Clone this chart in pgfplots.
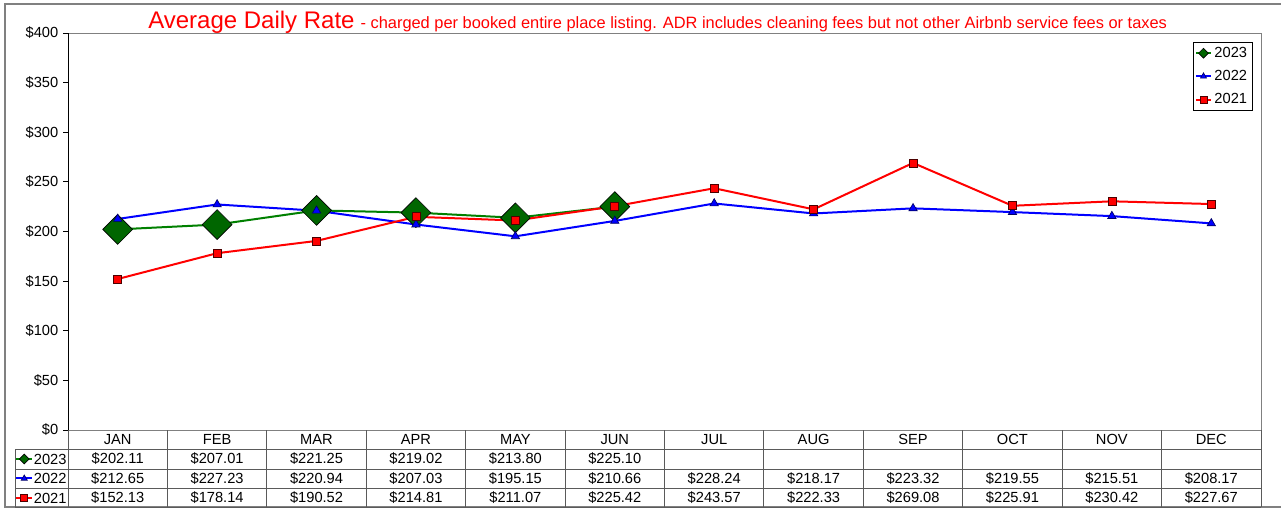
\documentclass[border=0pt]{standalone}
\usepackage{pgfplots}
\usepackage{pgfplotstable}
\pgfplotsset{compat=1.18}
\usepackage{fontspec}
\setmainfont{Liberation Sans}

\definecolor{line23}{RGB}{0,128,0}
\definecolor{fill23}{RGB}{0,102,0}
\definecolor{line22}{RGB}{0,0,255}
\definecolor{line21}{RGB}{255,0,0}
\definecolor{framegray}{RGB}{128,128,128}
\definecolor{gridgray}{RGB}{90,90,90}

% average daily rate by month
\pgfplotstableread{
x  m    y23     y22     y21
0  JAN  202.11  212.65  152.13
1  FEB  207.01  227.23  178.14
2  MAR  221.25  220.94  190.52
3  APR  219.02  207.03  214.81
4  MAY  213.80  195.15  211.07
5  JUN  225.10  210.66  225.42
6  JUL  nan     228.24  243.57
7  AUG  nan     218.17  222.33
8  SEP  nan     223.32  269.08
9  OCT  nan     219.55  225.91
10 NOV  nan     215.51  230.42
11 DEC  nan     208.17  227.67
}\adr

\newcommand\tabfont{\fontsize{11}{13}\selectfont}

\pgfplotsset{
  s23/.style={color=line23, line width=1.5pt, mark=square*, mark size=7.9pt,
    mark options={solid, rotate=45, fill=fill23, draw=black, line width=0.5pt}},
  s22/.style={color=line22, line width=1.5pt, mark=triangle*, mark size=3.6pt,
    mark options={solid, fill=line22, draw=blue!40!black, line width=0.5pt}},
  s21/.style={color=line21, line width=1.5pt, mark=square*, mark size=3pt,
    mark options={solid, fill=line21, draw=red!30!black, line width=0.5pt}},
}

\begin{document}
\begin{tikzpicture}
\useasboundingbox (0,0) rectangle (960.75pt,381pt);

\begin{axis}[
  at={(51pt,58.5pt)}, anchor=south west,
  scale only axis, width=894.75pt, height=297.75pt,
  xmin=-0.5, xmax=11.5, ymin=0, ymax=400,
  xtick=\empty,
  ytick={0,50,...,400},
  yticklabel={\$\pgfmathprintnumber{\tick}},
  /pgf/number format/assume math mode=true,
  ytick pos=left, tick align=outside, major tick length=3.75pt,
  tick label style={font=\tabfont},
  axis line style={draw=framegray, line width=0.75pt},
  tick style={black, line width=0.75pt},
  unbounded coords=jump,
  clip=false,
  legend style={at={(axis description cs:0.9925,0.977)}, anchor=north east,
    draw=black, fill=white, font=\tabfont, inner xsep=1.5pt, inner ysep=1.5pt,
    row sep=4.2pt, cells={anchor=west}},
  legend image code/.code={\draw[mark repeat=2,mark phase=2,#1]
    plot coordinates {(0pt,0pt)(5.5pt,0pt)(11pt,0pt)};},
  legend image post style={mark size=2.6pt},
]
\addplot[s23] table[x=x, y=y23] {\adr};
\addlegendentry{2023}
\addplot[s22] table[x=x, y=y22] {\adr};
\addlegendentry{2022}
\addplot[s21] table[x=x, y=y21] {\adr};
\addlegendentry{2021}
\draw[black, line width=0.75pt] (rel axis cs:0,0) -- (rel axis cs:0,1);
\end{axis}

% keys of the data table
\begin{axis}[
  at={(11.25pt,0.75pt)}, anchor=south west,
  scale only axis, width=39.75pt, height=43.5pt,
  xmin=0, xmax=1, ymin=0, ymax=1, hide axis,
  legend style={at={(0,1)}, anchor=north west, draw=none, fill=none,
    font=\tabfont, inner sep=0pt, row sep=0pt,
    nodes={inner xsep=0.5pt, inner ysep=0pt, text height=11.3pt, text depth=3.3pt},
    cells={anchor=west}},
  legend image code/.code={\draw[mark repeat=2,mark phase=2,#1]
    plot coordinates {(0pt,0pt)(6pt,0pt)(12pt,0pt)};},
  legend image post style={mark size=2.6pt},
]
\addlegendimage{s23}
\addlegendentry{2023}
\addlegendimage{s22}
\addlegendentry{2022}
\addlegendimage{s21}
\addlegendentry{2021}
\end{axis}

\begin{scope}[x=0.75pt, y=0.75pt]
  % outer frame
  \draw[framegray, line width=1.5pt] (1281,1) -- (5,1) -- (5,504) -- (1281,504);
  % title
  \node[anchor=base west, inner sep=0pt, text=red] at (148,479)
    {{\fontsize{18}{20}\selectfont Average Daily Rate}\hspace{4.5pt}{\fontsize{12.3}{14}\selectfont - charged per booked entire place listing. ADR includes cleaning fees but not other Airbnb service fees or taxes}};
  % table grid
  \foreach \i in {0,...,12}
    \draw[gridgray, line width=0.75pt] ({68+\i*99.41667},78) -- ({68+\i*99.41667},1);
  \draw[gridgray, line width=0.75pt] (15,59) -- (15,1);
  \foreach \yy in {59,39,20,1}
    \draw[gridgray, line width=0.75pt] (15,\yy) -- (1261,\yy);
  % table text
  \foreach \r in {0,...,11} {
    \pgfplotstablegetelem{\r}{m}\of\adr
    \node[font=\tabfont] at ({68+(\r+0.5)*99.41667},68.5) {\pgfplotsretval};
    \pgfplotstablegetelem{\r}{y22}\of\adr
    \node[font=\tabfont] at ({68+(\r+0.5)*99.41667},29.5) {\$\pgfplotsretval};
    \pgfplotstablegetelem{\r}{y21}\of\adr
    \node[font=\tabfont] at ({68+(\r+0.5)*99.41667},10.5) {\$\pgfplotsretval};
  }
  \foreach \r in {0,...,5} {
    \pgfplotstablegetelem{\r}{y23}\of\adr
    \node[font=\tabfont] at ({68+(\r+0.5)*99.41667},49) {\$\pgfplotsretval};
  }
\end{scope}
\end{tikzpicture}
\end{document}
